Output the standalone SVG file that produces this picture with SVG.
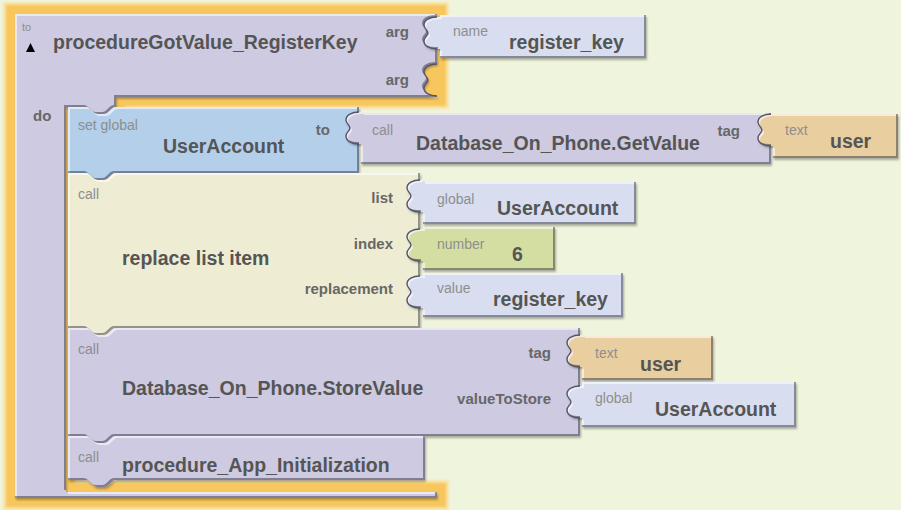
<svg xmlns="http://www.w3.org/2000/svg" width="901" height="510" viewBox="0 0 901 510">
  <defs>
    <style>
      .main{font-family:"Liberation Sans",Arial,sans-serif;font-weight:bold;font-size:19.5px;fill:#555}
      .lbl{font-family:"Liberation Sans",Arial,sans-serif;font-weight:bold;font-size:15px;fill:#676767}
      .sm{font-family:"Liberation Sans",Arial,sans-serif;font-size:14px;fill:#8e8e8e}
      .r{text-anchor:end}
      .proc{fill:#cdcae1}
      .setg{fill:#b3cfe9}
      .list{fill:#efecd4}
      .var{fill:#d8deef}
      .num{fill:#d4dea3}
      .txt{fill:#e9cea0}
      .kc{fill:none;stroke:#56546a;stroke-width:1.4}
    </style>
    <!-- raised look: light top/left rim, dark bottom/right rim, small drop shadow -->
    <filter id="bevel" x="-5%" y="-10%" width="110%" height="125%">
      <feOffset in="SourceAlpha" dx="-2" dy="-2" result="up"/>
      <feComposite in="SourceAlpha" in2="up" operator="out" result="darkRim"/>
      <feFlood flood-color="#3c3a52" flood-opacity="0.7"/>
      <feComposite in2="darkRim" operator="in" result="darkEdge"/>
      <feOffset in="SourceAlpha" dx="1.5" dy="1.5" result="down"/>
      <feComposite in="SourceAlpha" in2="down" operator="out" result="lightRim"/>
      <feFlood flood-color="#ffffff" flood-opacity="0.55"/>
      <feComposite in2="lightRim" operator="in" result="lightEdge"/>
      <feOffset in="SourceAlpha" dx="1" dy="1.5" result="sh"/>
      <feGaussianBlur in="sh" stdDeviation="0.8" result="shb"/>
      <feFlood flood-color="#000" flood-opacity="0.3"/>
      <feComposite in2="shb" operator="in" result="shadow"/>
      <feMerge>
        <feMergeNode in="shadow"/>
        <feMergeNode in="SourceGraphic"/>
        <feMergeNode in="lightEdge"/>
        <feMergeNode in="darkEdge"/>
      </feMerge>
    </filter>
    <filter id="soft" x="-5%" y="-5%" width="110%" height="110%">
      <feGaussianBlur stdDeviation="1.3"/>
    </filter>
    <!-- plug tab of a value block, origin = socket edge of the parent -->
    <path id="kn" d="M 3,0 L 0,0 C -7,0 -13,3 -13,8 C -13,12 -9,13 -9,16 C -9,19 -13,20 -13,24 C -13,29 -7,32 0,32 L 3,32 Z"/>
    <path id="kc" d="M 0,0 C -7,0 -13,3 -13,8 C -13,12 -9,13 -9,16 C -9,19 -13,20 -13,24 C -13,29 -7,32 0,32"/>
  </defs>

  <rect width="901" height="510" fill="#eff4dc"/>

  <!-- selection glow around the procedure -->
  <g filter="url(#soft)">
    <path d="M 15,14 H 437 V 97 H 116 V 107 H 66 V 492 H 437 V 498 H 15 Z" fill="#fbdf96" stroke="#fbdf96" stroke-width="23"/>
    <path d="M 15,14 H 437 V 97 H 116 V 107 H 66 V 492 H 437 V 498 H 15 Z" fill="#f7c65b" stroke="#f7c65b" stroke-width="18"/>
  </g>

  <g id="procedureGotValue_RegisterKey">
    <path class="proc" filter="url(#bevel)" d="M 15,14 H 437 V 17 C 430,17 424,20 424,25 C 424,29 428,30 428,33 C 428,36 424,37 424,41 C 424,46 430,49 437,49 V 64 C 430,64 424,67 424,72 C 424,76 428,77 428,80 C 428,83 424,84 424,88 C 424,93 430,96 437,96 V 97 H 116 V 107 C 111,107 109,114 104,114 H 98 C 93,114 90,107 86,107 H 66 V 492 H 437 V 498 H 15 Z"/>
    <text class="sm" x="22" y="31" style="font-size:11px">to</text>
    <polygon points="30.5,43 26,52 35,52" fill="#000"/>
    <text class="main" x="53" y="49">procedureGotValue_RegisterKey</text>
    <text class="lbl r" x="409" y="37">arg</text>
    <text class="lbl r" x="409" y="85">arg</text>
    <text class="lbl" x="33" y="121">do</text>
  </g>

  <g id="name_register_key">
    <g filter="url(#bevel)">
      <rect class="var" x="440" y="15" width="206" height="43"/>
      <use href="#kn" class="var" x="437" y="17"/>
    </g>
    <text class="sm" x="453" y="36">name</text>
    <text class="main" x="509" y="49">register_key</text>
  </g>

  <g id="set_global_UserAccount">
    <path class="setg" filter="url(#bevel)" d="M 68,107 H 86 C 90,107 93,114 98,114 H 104 C 109,114 111,107 116,107 H 359 V 173 H 116 C 111,173 109,180 104,180 H 98 C 93,180 90,173 86,173 H 68 Z"/>
    <text class="sm" x="78" y="130">set global</text>
    <text class="main" x="163" y="153">UserAccount</text>
    <text class="lbl r" x="330" y="135">to</text>
  </g>

  <g id="call_GetValue">
    <g filter="url(#bevel)">
      <rect class="proc" x="361" y="113" width="410" height="51"/>
      <use href="#kn" class="proc" x="359" y="112"/>
    </g>
    <text class="sm" x="372" y="135">call</text>
    <text class="main" x="416" y="150">Database_On_Phone.GetValue</text>
    <text class="lbl r" x="740" y="136">tag</text>
  </g>

  <g id="text_user_get">
    <g filter="url(#bevel)">
      <rect class="txt" x="773" y="114" width="125" height="44"/>
      <use href="#kn" class="txt" x="771" y="114"/>
    </g>
    <text class="sm" x="785" y="135">text</text>
    <text class="main" x="830" y="148">user</text>
  </g>

  <g id="replace_list_item">
    <path class="list" filter="url(#bevel)" d="M 68,173 H 86 C 90,173 93,180 98,180 H 104 C 109,180 111,173 116,173 H 420 V 328 H 116 C 111,328 109,335 104,335 H 98 C 93,335 90,328 86,328 H 68 Z"/>
    <text class="sm" x="78" y="199">call</text>
    <text class="main" x="122" y="265">replace list item</text>
    <text class="lbl r" x="393" y="203">list</text>
    <text class="lbl r" x="393" y="249">index</text>
    <text class="lbl r" x="393" y="294">replacement</text>
  </g>

  <g id="global_UserAccount_list">
    <g filter="url(#bevel)">
      <rect class="var" x="423" y="182" width="213" height="42"/>
      <use href="#kn" class="var" x="420" y="180"/>
    </g>
    <text class="sm" x="437" y="204">global</text>
    <text class="main" x="497" y="215">UserAccount</text>
  </g>

  <g id="number_6">
    <g filter="url(#bevel)">
      <rect class="num" x="423" y="227" width="132" height="43"/>
      <use href="#kn" class="num" x="420" y="229"/>
    </g>
    <text class="sm" x="437" y="249">number</text>
    <text class="main" x="512" y="261">6</text>
  </g>

  <g id="value_register_key">
    <g filter="url(#bevel)">
      <rect class="var" x="423" y="273" width="200" height="44"/>
      <use href="#kn" class="var" x="420" y="276"/>
    </g>
    <text class="sm" x="437" y="293">value</text>
    <text class="main" x="493" y="306">register_key</text>
  </g>

  <g id="call_StoreValue">
    <path class="proc" filter="url(#bevel)" d="M 68,328 H 86 C 90,328 93,335 98,335 H 104 C 109,335 111,328 116,328 H 580 V 436 H 116 C 111,436 109,443 104,443 H 98 C 93,443 90,436 86,436 H 68 Z"/>
    <text class="sm" x="78" y="354">call</text>
    <text class="main" x="122" y="395">Database_On_Phone.StoreValue</text>
    <text class="lbl r" x="551" y="358">tag</text>
    <text class="lbl r" x="551" y="404">valueToStore</text>
  </g>

  <g id="text_user_store">
    <g filter="url(#bevel)">
      <rect class="txt" x="582" y="336" width="131" height="44"/>
      <use href="#kn" class="txt" x="580" y="335"/>
    </g>
    <text class="sm" x="595" y="358">text</text>
    <text class="main" x="640" y="371">user</text>
  </g>

  <g id="global_UserAccount_store">
    <g filter="url(#bevel)">
      <rect class="var" x="582" y="382" width="214" height="45"/>
      <use href="#kn" class="var" x="580" y="386"/>
    </g>
    <text class="sm" x="595" y="403">global</text>
    <text class="main" x="655" y="416">UserAccount</text>
  </g>

  <g id="call_procedure_App_Initialization">
    <path class="proc" filter="url(#bevel)" d="M 68,436 H 86 C 90,436 93,443 98,443 H 104 C 109,443 111,436 116,436 H 425 V 480 H 116 C 111,480 109,487 104,487 H 98 C 93,487 90,480 86,480 H 68 Z"/>
    <text class="sm" x="78" y="462">call</text>
    <text class="main" x="122" y="472">procedure_App_Initialization</text>
  </g>

  <!-- socket joints between blocks -->
  <g id="connectors">
    <use href="#kc" class="kc" x="437" y="17"/>
    <use href="#kc" class="kc" x="437" y="64"/>
    <use href="#kc" class="kc" x="359" y="112"/>
    <use href="#kc" class="kc" x="771" y="114"/>
    <use href="#kc" class="kc" x="420" y="180"/>
    <use href="#kc" class="kc" x="420" y="229"/>
    <use href="#kc" class="kc" x="420" y="276"/>
    <use href="#kc" class="kc" x="580" y="335"/>
    <use href="#kc" class="kc" x="580" y="386"/>
  </g>
</svg>
